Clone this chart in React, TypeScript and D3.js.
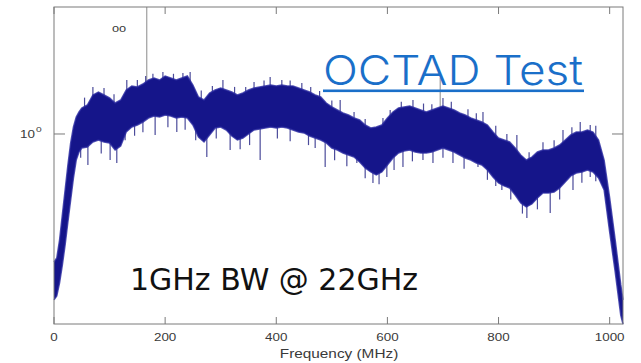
import React from "react";
import * as d3 from "d3";

// Frequency grid (MHz) of the envelope readings
const freq = [0, 5, 10, 15, 20, 25, 30, 35, 40, 45, 50, 60, 70, 80, 90, 100, 110, 120, 130, 140, 150, 160, 170, 180, 190, 200, 210, 220, 230, 240, 250, 260, 270, 280, 290, 300, 310, 320, 330, 340, 350, 360, 370, 380, 390, 400, 410, 420, 430, 440, 450, 460, 470, 480, 490, 500, 510, 520, 530, 540, 550, 560, 570, 580, 590, 600, 610, 620, 630, 640, 650, 660, 670, 680, 690, 700, 710, 720, 730, 740, 750, 760, 770, 780, 790, 800, 810, 820, 830, 840, 850, 860, 870, 880, 890, 900, 910, 920, 930, 940, 950, 960, 970, 980, 990, 1000, 1010, 1020, 1024];

// Upper envelope of the noisy spectrum
const upper = [0.229, 0.240, 0.295, 0.394, 0.525, 0.700, 0.902, 1.084, 1.216, 1.288, 1.349, 1.396, 1.567, 1.622, 1.567, 1.514, 1.429, 1.479, 1.660, 1.738, 1.718, 1.778, 1.862, 1.905, 1.862, 1.950, 1.905, 1.862, 1.905, 1.950, 1.758, 1.531, 1.479, 1.603, 1.660, 1.698, 1.660, 1.622, 1.567, 1.603, 1.660, 1.698, 1.718, 1.738, 1.758, 1.738, 1.758, 1.738, 1.738, 1.698, 1.660, 1.622, 1.567, 1.531, 1.429, 1.365, 1.318, 1.274, 1.245, 1.202, 1.175, 1.109, 1.072, 1.084, 1.109, 1.202, 1.288, 1.349, 1.365, 1.380, 1.349, 1.318, 1.288, 1.318, 1.349, 1.380, 1.349, 1.318, 1.274, 1.245, 1.202, 1.175, 1.148, 1.109, 1.023, 0.955, 0.933, 0.912, 0.851, 0.785, 0.741, 0.767, 0.813, 0.832, 0.832, 0.851, 0.881, 0.933, 0.989, 1.023, 1.023, 1.047, 1.023, 0.933, 0.741, 0.479, 0.295, 0.176, 0.148];

// Lower envelope of the noisy spectrum
const lower = [0.148, 0.155, 0.180, 0.221, 0.279, 0.363, 0.468, 0.603, 0.741, 0.813, 0.851, 0.861, 0.912, 0.933, 0.912, 0.902, 0.832, 0.871, 1.023, 1.084, 1.109, 1.148, 1.202, 1.230, 1.216, 1.245, 1.230, 1.202, 1.216, 1.202, 1.109, 0.966, 0.912, 0.989, 1.072, 1.084, 1.047, 0.977, 0.933, 0.955, 1.000, 1.047, 1.059, 1.072, 1.084, 1.072, 1.084, 1.072, 1.047, 1.023, 1.012, 0.977, 0.955, 0.933, 0.902, 0.851, 0.832, 0.804, 0.785, 0.767, 0.724, 0.676, 0.646, 0.624, 0.646, 0.700, 0.759, 0.804, 0.822, 0.832, 0.813, 0.804, 0.804, 0.813, 0.832, 0.851, 0.832, 0.813, 0.785, 0.759, 0.741, 0.716, 0.700, 0.661, 0.610, 0.569, 0.550, 0.537, 0.495, 0.452, 0.432, 0.447, 0.479, 0.507, 0.507, 0.513, 0.537, 0.575, 0.617, 0.638, 0.646, 0.661, 0.646, 0.603, 0.525, 0.324, 0.204, 0.124, 0.112];

// Downward noise spikes: frequency (MHz) and tip value
const spikeDownFreq = [48, 61, 85, 101, 113, 128, 145, 160, 182, 205, 221, 236, 255, 275, 292, 317, 335, 352, 371, 402, 425, 458, 470, 488, 505, 527, 545, 560, 574, 585, 599, 612, 628, 645, 664, 682, 700, 718, 738, 763, 780, 795, 806, 822, 843, 851, 870, 893, 910, 934, 950, 965, 975];
const spikeDownVal = [0.76, 0.70, 0.80, 0.741, 0.716, 0.93, 0.98, 1.02, 0.989, 1.08, 1.023, 1.05, 0.93, 0.767, 0.95, 0.832, 0.84, 0.88, 0.741, 0.95, 0.92, 0.88, 0.85, 0.684, 0.74, 0.69, 0.716, 0.60, 0.569, 0.56, 0.610, 0.66, 0.684, 0.73, 0.741, 0.716, 0.76, 0.716, 0.67, 0.684, 0.59, 0.55, 0.525, 0.47, 0.40, 0.380, 0.42, 0.403, 0.47, 0.525, 0.57, 0.610, 0.58];

// Upward noise spikes
const spikeUpFreq = [55, 70, 90, 108, 131, 150, 165, 178, 196, 215, 232, 245, 265, 285, 304, 325, 345, 360, 378, 389, 410, 425, 446, 462, 478, 500, 515, 540, 560, 592, 605, 625, 646, 665, 680, 700, 715, 745, 760, 772, 795, 815, 833, 855, 880, 900, 916, 932, 947, 965, 975];
const spikeUpVal = [1.52, 1.718, 1.70, 1.58, 1.862, 1.86, 1.95, 2.00, 2.042, 2.00, 2.02, 2.042, 1.65, 1.74, 1.862, 1.72, 1.72, 1.82, 1.85, 1.928, 1.86, 1.85, 1.799, 1.72, 1.64, 1.47, 1.479, 1.29, 1.19, 1.202, 1.32, 1.45, 1.479, 1.42, 1.41, 1.514, 1.45, 1.33, 1.27, 1.288, 1.10, 1.00, 0.989, 0.81, 0.91, 0.93, 1.047, 1.08, 1.148, 1.109, 1.10];

// Marker cursor lines (MHz, top value)
const markerFreq = [167, 695];
const markerTop = [4.315, 1.905];

const xTicks = [0, 200, 400, 600, 800, 1000];
const yTicks = [1];

const W = 641;
const H = 363;
const L = 54, R = 623, T = 7, B = 324;
const SX = 1.28; // horizontal stretch of the axis lettering

export default function App() {
  const x = d3.scaleLinear().domain([0, 1024]).range([L, R]);
  const y = d3.scaleLog().domain([0.1122, 4.315]).range([B, T]);

  const rows = freq.map((f, i) => ({ f, u: upper[i], l: lower[i] }));
  const area = d3
    .area<{ f: number; u: number; l: number }>()
    .x((d) => x(d.f))
    .y0((d) => y(d.l))
    .y1((d) => y(d.u));
  const upLine = d3.line<{ f: number; u: number; l: number }>().x((d) => x(d.f)).y((d) => y(d.u));
  const loLine = d3.line<{ f: number; u: number; l: number }>().x((d) => x(d.f)).y((d) => y(d.l));

  const interp = (arr: number[], f: number) => {
    const i = Math.max(1, d3.bisectLeft(freq, f));
    const f0 = freq[i - 1], f1 = freq[i];
    const t = (f - f0) / (f1 - f0);
    return arr[i - 1] + (arr[i] - arr[i - 1]) * t;
  };

  const navy = "#15158a";
  const spikeCol = "#4b4b9a";
  const axisCol = "#7a7a7a";
  const textCol = "#3a3a3a";
  const axFont = "Liberation Sans, Arial, sans-serif";

  return (
    <svg
      width={W}
      height={H}
      style={{ position: "absolute", left: 0, top: 0, background: "#fff" }}
    >
      {/* markers */}
      {markerFreq.map((f, i) => (
        <line
          key={"m" + i}
          x1={x(f)}
          x2={x(f)}
          y1={y(markerTop[i])}
          y2={y(interp(upper, f)) + 4}
          stroke="#8a8a8a"
          strokeWidth={1}
        />
      ))}

      {/* spikes */}
      {spikeDownFreq.map((f, i) => (
        <line
          key={"sd" + i}
          x1={x(f)}
          x2={x(f)}
          y1={y(interp(lower, f)) - 3}
          y2={y(spikeDownVal[i])}
          stroke={spikeCol}
          strokeWidth={1.2}
        />
      ))}
      {spikeUpFreq.map((f, i) => (
        <line
          key={"su" + i}
          x1={x(f)}
          x2={x(f)}
          y1={y(interp(upper, f)) + 3}
          y2={y(spikeUpVal[i])}
          stroke={spikeCol}
          strokeWidth={1.2}
        />
      ))}

      {/* band */}
      <path d={area(rows) || ""} fill={navy} />
      <path d={upLine(rows) || ""} fill="none" stroke="#2a2aa0" strokeWidth={1.5} strokeOpacity={0.8} />
      <path d={loLine(rows) || ""} fill="none" stroke="#2a2aa0" strokeWidth={1.5} strokeOpacity={0.8} />

      {/* axes box */}
      <rect x={L} y={T} width={R - L} height={B - T} fill="none" stroke={axisCol} strokeWidth={1} />
      {xTicks.map((t) => (
        <g key={"xt" + t}>
          <line x1={x(t)} x2={x(t)} y1={B} y2={B - 7} stroke={axisCol} />
          <line x1={x(t)} x2={x(t)} y1={T} y2={T + 7} stroke={axisCol} />
          <text
            transform={`translate(${x(t)},341) scale(${SX},1)`}
            textAnchor="middle"
            fontFamily={axFont}
            fontSize={10.5}
            fill={textCol}
          >
            {t}
          </text>
        </g>
      ))}
      {yTicks.map((t) => (
        <g key={"yt" + t}>
          <line x1={L} x2={L + 11} y1={y(t)} y2={y(t)} stroke={axisCol} />
          <line x1={R} x2={R - 11} y1={y(t)} y2={y(t)} stroke={axisCol} />
          <text transform={`translate(20,${y(t) + 4}) scale(${SX},1)`} fontFamily={axFont} fontSize={10.5} fill={textCol}>
            10
          </text>
          <text transform={`translate(36,${y(t) - 2}) scale(${SX},1)`} fontFamily={axFont} fontSize={8} fill={textCol}>
            0
          </text>
        </g>
      ))}
      <text
        transform={`translate(339,358) scale(${SX},1)`}
        textAnchor="middle"
        fontFamily={axFont}
        fontSize={12}
        fill={textCol}
      >
        Frequency (MHz)
      </text>
      <text transform={`translate(112,32) scale(${SX},1)`} fontFamily={axFont} fontSize={10} fill={textCol}>
        oo
      </text>

      {/* annotations */}
      <text
        x={323}
        y={85}
        fontFamily="Inter, Open Sans, sans-serif"
        fontWeight={300}
        fontSize={41}
        fill="#1a6fc9"
        textLength={260}
        lengthAdjust="spacingAndGlyphs"
      >
        OCTAD Test
      </text>
      <rect x={323} y={89.5} width={261} height={2.6} fill="#1a6fc9" />
      <text
        x={130}
        y={290}
        fontFamily="DejaVu Sans, sans-serif"
        fontSize={31}
        fill="#111"
        textLength={288}
        lengthAdjust="spacingAndGlyphs"
      >
        1GHz BW @ 22GHz
      </text>
    </svg>
  );
}
